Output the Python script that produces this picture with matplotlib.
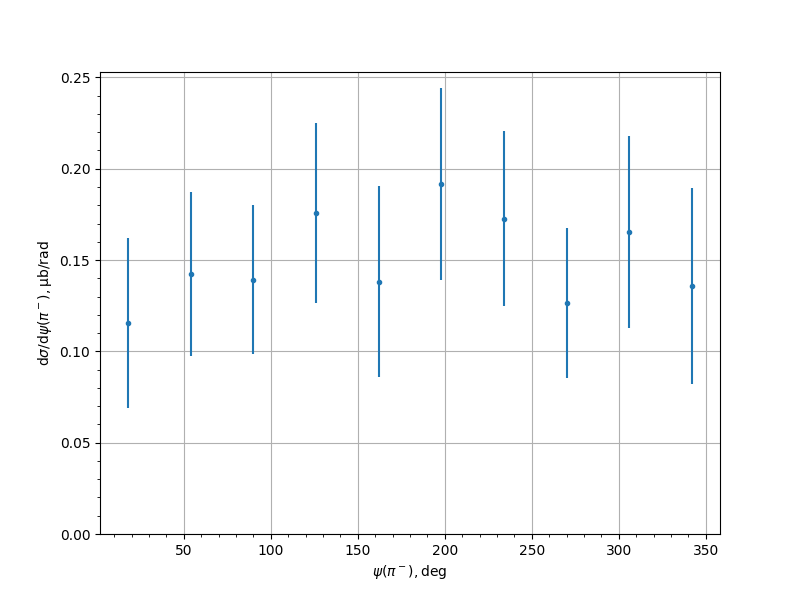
import matplotlib
matplotlib.use('Agg')
import matplotlib.pyplot as plt
import numpy as np

# angle bins (deg) and measured cross section with errors
psi_deg = [18, 54, 90, 126, 162, 198, 234, 270, 306, 342]
dsigma = [0.1156, 0.1424, 0.1391, 0.1758, 0.1380, 0.1917, 0.1725, 0.1265, 0.1654, 0.1358]
dsigma_err = [0.0467, 0.0451, 0.0408, 0.0495, 0.0523, 0.0525, 0.0479, 0.0413, 0.0526, 0.0537]

fig, ax = plt.subplots(figsize=(8, 6), dpi=100)

ax.errorbar(psi_deg, dsigma, yerr=dsigma_err, fmt='.', color='#1f77b4')

ax.set_ylim(bottom=0)
ax.set_xlabel(r'$\psi(\pi^-), \mathrm{deg}$')
ax.set_ylabel(r'$\mathrm{d}\sigma/\mathrm{d}\psi(\pi^-), \mathrm{\mu b/rad}$')
ax.minorticks_on()
ax.grid(True, which='major')

plt.savefig('out.png')
